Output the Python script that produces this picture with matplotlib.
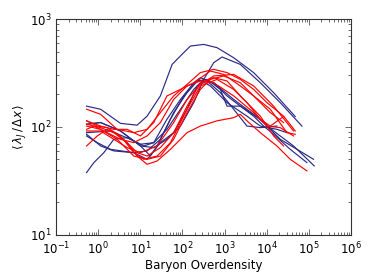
import matplotlib
matplotlib.use("Agg")
import matplotlib.pyplot as plt
import numpy as np

# ---- data ----
blue_x = [
    [0.53, 1.14, 3.39, 8.4, 14.5, 30, 57, 98, 155, 321, 664, 1650, 4917, 14660, 47850],
    [0.53, 1.14, 3.39, 10.1, 20.9, 43, 90, 186, 321, 553, 873, 2373, 7080, 21090, 68870],
    [0.53, 0.79, 1.36, 2.35, 4.87, 10.1, 20.9, 43, 90, 186, 321, 553, 1146, 2373, 4917, 8490, 14660, 36400, 90530],
    [0.53, 1.14, 3.39, 10.1, 17.4, 25.1, 52, 108, 223, 385, 797, 1146, 2373, 7080, 21090, 130300],
    [0.53, 1.96, 5.85, 12.1, 20.9, 43, 90, 186, 267, 553, 1650, 4917, 14660, 43660, 135000],
    [0.53, 0.95, 1.96, 7.0, 14.5, 30, 62, 129, 244, 461, 1146, 3417, 7080, 17580, 30350],
    [0.53, 1.14, 2.35, 7.0, 14.5, 30, 62, 129, 223, 385, 797, 1650, 3417, 7080, 17580],
]
blue_y = [
    [156, 146, 108, 104, 126, 194, 380, 471, 562, 582, 543, 438, 319, 208, 125],
    [106, 110, 91.8, 66.7, 64.4, 76.9, 102, 168, 276, 394, 445, 380, 257, 168, 102],
    [37.8, 46.8, 57.8, 76.9, 79.7, 69.2, 71.6, 95.1, 146, 223, 276, 257, 194, 156, 126, 102, 85.6, 62.1, 46.8],
    [106, 110, 91.8, 66.7, 53.8, 66.7, 118, 194, 267, 276, 223, 156, 156, 118, 76.9, 50.2],
    [88.6, 91.8, 76.9, 66.7, 71.6, 118, 180, 257, 286, 257, 180, 131, 91.8, 66.7, 43.6],
    [82.6, 71.6, 62.1, 57.8, 60.0, 76.9, 136, 208, 276, 240, 168, 126, 102, 95.1, 88.6],
    [85.6, 66.7, 60.0, 57.8, 50.2, 71.6, 88.6, 146, 240, 267, 208, 146, 102, 98.6, 102],
]
red_x = [
    [0.53, 0.95, 1.63, 2.82, 4.87, 8.4, 14.5, 25.1, 52, 129, 267, 664, 1650, 2373, 3417, 7080, 17580, 36400, 90530],
    [0.53, 1.14, 2.82, 7.0, 14.5, 30, 62, 129, 267, 461, 955, 2373, 4917, 12220, 30350, 47850],
    [0.53, 1.14, 2.82, 7.0, 14.5, 30, 62, 129, 267, 553, 1146, 2373, 4917, 10190, 25300, 47850],
    [0.53, 1.14, 2.35, 4.87, 10.1, 20.9, 43, 90, 186, 461, 955, 2373, 4917, 12220, 25300],
    [0.53, 0.95, 1.63, 3.39, 7.0, 12.1, 25.1, 52, 129, 267, 664, 1650, 3417, 7080, 12220, 25300],
    [0.53, 1.14, 2.35, 4.87, 8.4, 14.5, 30, 62, 129, 267, 553, 1146, 2373, 7080, 14660, 25300],
    [0.53, 0.79, 1.63, 3.39, 7.0, 14.5, 30, 62, 129, 267, 553, 1650, 4917, 10190, 21090, 43660],
    [0.53, 1.14, 2.35, 4.87, 10.1, 25.1, 62, 129, 267, 553, 1650, 4917, 14660, 43660],
]
red_y = [
    [66.7, 82.6, 95.1, 85.6, 71.6, 53.8, 45.1, 48.4, 62.1, 88.6, 102, 114, 122, 131, 114, 88.6, 66.7, 50.2, 39.2],
    [102, 95.1, 76.9, 53.8, 50.2, 53.8, 76.9, 136, 223, 276, 297, 257, 194, 146, 88.6, 85.6],
    [146, 131, 95.1, 88.6, 95.1, 136, 194, 248, 319, 342, 319, 276, 223, 168, 126, 91.8],
    [114, 102, 95.1, 95.1, 82.6, 110, 194, 223, 257, 330, 307, 240, 194, 136, 110],
    [114, 102, 98.6, 82.6, 57.8, 50.2, 53.8, 71.6, 146, 240, 276, 223, 168, 118, 102, 125],
    [106, 98.6, 88.6, 71.6, 57.8, 53.8, 64.4, 88.6, 156, 257, 286, 267, 194, 126, 82.6, 66.7],
    [95.1, 102, 88.6, 76.9, 71.6, 82.6, 110, 180, 240, 267, 257, 194, 136, 102, 98.6, 82.6],
    [91.8, 91.8, 76.9, 64.4, 57.8, 66.7, 110, 180, 248, 297, 307, 240, 156, 91.8],
]

x_label = "Baryon Overdensity"
y_label = r"$\langle\,\lambda_J\,/\,\Delta x\,\rangle$"

fig = plt.figure(figsize=(3.74, 2.8), dpi=100)
ax = fig.add_axes([0.150, 0.161, 0.788, 0.771])

for xs, ys in zip(blue_x, blue_y):
    ax.plot(xs, ys, color="#2a2a85", lw=0.85)
for xs, ys in zip(red_x, red_y):
    ax.plot(xs, ys, color="#ff0000", lw=0.85)

ax.set_xscale("log")
ax.set_yscale("log")
ax.set_xlim(0.1, 1e6)
ax.set_ylim(10, 1000)
ax.set_xlabel(x_label, fontsize=8.5, labelpad=1)
ax.set_ylabel(y_label, fontsize=8.5, labelpad=2)

ax.tick_params(which="both", direction="in", top=True, right=True,
               labelsize=8.5, width=0.5, color="#333333")
ax.tick_params(which="major", length=4)
ax.tick_params(axis="x", which="major", pad=4.5)
ax.tick_params(axis="y", which="major", pad=3)
ax.tick_params(which="minor", length=2)
for s in ax.spines.values():
    s.set_linewidth(0.8)
    s.set_color("#333333")

fig.savefig("out.png", dpi=100)
